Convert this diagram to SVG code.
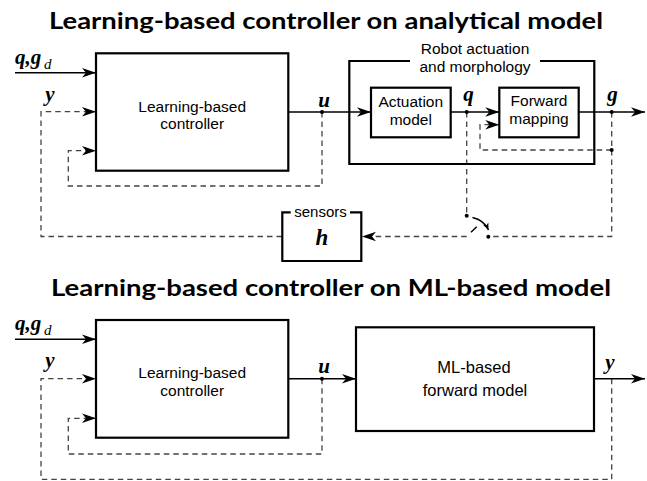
<svg xmlns="http://www.w3.org/2000/svg" width="647" height="481" viewBox="0 0 647 481">
<defs>
<style>
.title{font-family:Lato,"Liberation Sans",sans-serif;font-weight:bold;font-size:23.5px;fill:#000;text-anchor:middle}
.lbl{font-family:"Liberation Sans",Arial,sans-serif;font-size:15.5px;fill:#000;text-anchor:middle}
.math{font-family:"Liberation Serif","Times New Roman",serif;font-weight:bold;font-style:italic;font-size:21px;fill:#000}
.sub{font-family:"Liberation Serif","Times New Roman",serif;font-style:italic;font-size:15px;fill:#000}
.box{fill:none;stroke:#000;stroke-width:2.2}
.sol{fill:none;stroke:#000;stroke-width:1.5}
.dash{fill:none;stroke:#444;stroke-width:1.3;stroke-dasharray:5.5 4}
.dot{fill:#000}
</style>
<marker id="ah" markerUnits="userSpaceOnUse" markerWidth="16" markerHeight="12" viewBox="-15 -6 16 12" refX="0" refY="0" orient="auto">
<path d="M0,0 L-14,-4.8 L-10,0 L-14,4.8 Z" fill="#000"/>
</marker>
<marker id="ahs" markerUnits="userSpaceOnUse" markerWidth="10" markerHeight="8" viewBox="-8 -4 9 8" refX="0" refY="0" orient="auto">
<path d="M0,0 L-7,-3 L-5,0 L-7,3 Z" fill="#000"/>
</marker>
</defs>
<rect width="647" height="481" fill="#fff"/>

<text class="title" x="326" y="28.5" textLength="554" lengthAdjust="spacingAndGlyphs">Learning-based controller on analytical model</text>
<text class="title" x="331" y="295.5" textLength="560" lengthAdjust="spacingAndGlyphs">Learning-based controller on ML-based model</text>

<g id="connectors">
<line class="sol" x1="15" y1="72.7" x2="96" y2="72.7" marker-end="url(#ah)"/>
<polyline class="dash" points="282,236.5 41,236.5 41,111.7 96,111.7" marker-end="url(#ah)"/>
<polyline class="dash" points="322,112 322,186 68.3,186 68.3,150.7 96,150.7" marker-end="url(#ah)"/>
<line class="sol" x1="288.3" y1="112" x2="371" y2="112" marker-end="url(#ah)"/>
<line class="sol" x1="450.7" y1="112" x2="499.3" y2="112" marker-end="url(#ah)"/>
<line class="sol" x1="578.7" y1="112" x2="645" y2="112" marker-end="url(#ah)"/>
<polyline class="dash" points="611.7,150 480,150 480,124.7 499.3,124.7" marker-end="url(#ah)"/>
<polyline class="dash" points="611.7,112 611.7,236.5 488.3,236.5"/>
<line class="dash" x1="466.7" y1="112" x2="466.7" y2="215.7"/>
<line class="dash" x1="466.7" y1="236.5" x2="362" y2="236.5" marker-end="url(#ah)"/>
<line class="sol" x1="471" y1="232.3" x2="476.7" y2="226.7" stroke-width="1.2"/>
<path class="sol" d="M472.5,217.5 Q484,220 488.5,230" stroke-width="1.2" marker-end="url(#ahs)"/>
<circle class="dot" cx="322" cy="112" r="2"/>
<circle class="dot" cx="466.7" cy="112" r="2"/>
<circle class="dot" cx="611.7" cy="112" r="2"/>
<circle class="dot" cx="611.7" cy="150" r="2"/>
<circle class="dot" cx="466.7" cy="215.7" r="2"/>
<circle class="dot" cx="488.3" cy="236.7" r="2"/>
<line class="sol" x1="15" y1="339.3" x2="96" y2="339.3" marker-end="url(#ah)"/>
<polyline class="dash" points="611.7,378.7 611.7,479.3 41,479.3 41,378.7 96,378.7" marker-end="url(#ah)"/>
<polyline class="dash" points="322,378.7 322,454 68.3,454 68.3,418.3 96,418.3" marker-end="url(#ah)"/>
<line class="sol" x1="288.3" y1="378.7" x2="356" y2="378.7" marker-end="url(#ah)"/>
<line class="sol" x1="594" y1="378.7" x2="645" y2="378.7" marker-end="url(#ah)"/>
<circle class="dot" cx="322" cy="378.7" r="2"/>
</g>

<g id="labels-top">
<text class="math" x="15" y="63.5">q,g</text><text class="sub" x="44" y="68.5">d</text>
<text class="math" x="50" y="100.5" text-anchor="middle">y</text>
<text class="math" x="324" y="106.5" text-anchor="middle">u</text>
<text class="math" x="468.5" y="101" text-anchor="middle">q</text>
<text class="math" x="612.5" y="100.5" text-anchor="middle">g</text>
</g>

<g id="controller-top">
<rect class="box" x="96" y="53.3" width="192.3" height="117.4"/>
<text class="lbl" x="192.2" y="111.5">Learning-based</text>
<text class="lbl" x="192.2" y="129">controller</text>
</g>

<g id="robot">
<path class="box" d="M410,61 H349.3 V164 H594.3 V61 H540"/>
<text class="lbl" x="475" y="53.5">Robot actuation</text>
<text class="lbl" x="475" y="71.5">and morphology</text>
</g>

<g id="actuation">
<rect class="box" x="371" y="87.7" width="79.7" height="49.6"/>
<text class="lbl" x="410.8" y="107">Actuation</text>
<text class="lbl" x="410.8" y="125">model</text>
</g>

<g id="forward">
<rect class="box" x="499.3" y="87.7" width="79.4" height="49.6"/>
<text class="lbl" x="539" y="106">Forward</text>
<text class="lbl" x="539" y="124">mapping</text>
</g>

<g id="sensors">
<path class="box" d="M290.7,212.3 H282.3 V261 H361.3 V212.3 H350"/>
<text class="lbl" x="320.5" y="217" style="font-size:15px">sensors</text>
<text class="math" x="322" y="244.5" text-anchor="middle" style="font-size:23px">h</text>
</g>

<g id="labels-bottom">
<text class="math" x="15" y="330">q,g</text><text class="sub" x="44" y="335">d</text>
<text class="math" x="50" y="367" text-anchor="middle">y</text>
<text class="math" x="324" y="373" text-anchor="middle">u</text>
<text class="math" x="610" y="369" text-anchor="middle">y</text>
</g>

<g id="controller-bottom">
<rect class="box" x="96" y="320" width="192.3" height="117.7"/>
<text class="lbl" x="192.2" y="378">Learning-based</text>
<text class="lbl" x="192.2" y="395.5">controller</text>
</g>

<g id="ml-model">
<rect class="box" x="356" y="327.3" width="238" height="103.7"/>
<text class="lbl" x="474" y="373" style="font-size:16.5px">ML-based</text>
<text class="lbl" x="475" y="396" style="font-size:16.5px">forward model</text>
</g>
</svg>
